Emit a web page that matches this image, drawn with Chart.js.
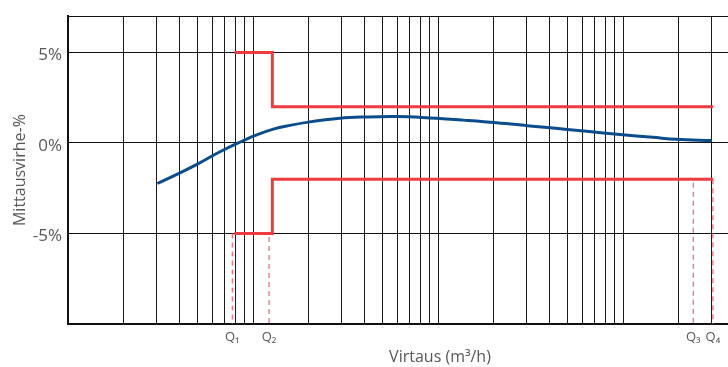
<!DOCTYPE html>
<html>
<head>
<meta charset="utf-8">
<script src="https://cdn.jsdelivr.net/npm/chart.js@4"></script>
<style>
  html, body { margin: 0; padding: 0; background: #fff; }
  #wrap { width: 728px; height: 367px; position: relative; }
</style>
</head>
<body>
<div id="wrap"><canvas id="c" width="728" height="367"></canvas></div>
<script>
// ---- data ----
const curveX = [3.04, 4.03, 5.06, 6.10, 7.05, 8.15, 9.04, 10.2, 12.85, 15.8, 19.9, 29.4, 39.4, 59.7, 90.3, 136.7, 207, 313, 417, 634, 960, 1445, 1941, 3004];
const curveY = [-2.24, -1.65, -1.14, -0.68, -0.35, -0.04, 0.17, 0.40, 0.76, 0.97, 1.15, 1.36, 1.43, 1.46, 1.38, 1.26, 1.12, 0.94, 0.82, 0.64, 0.46, 0.31, 0.20, 0.13];

const upperLimitX = [7.93, 12.7, 12.7, 3050];
const upperLimitY = [5, 5, 2, 2];
const lowerLimitX = [7.93, 12.7, 12.7, 3050];
const lowerLimitY = [-5, -5, -2, -2];

const qNames = ['Q\u2081', 'Q\u2082', 'Q\u2083', 'Q\u2084'];
const qValues = [7.72, 12.2, 2390, 3050];
const qTopY = [-5, -5.2, -2.2, -2];
const qBottomY = -10;

const gridValues = [1,2,3,4,5,6,7,8,9,10,20,30,40,50,60,70,80,90,100,200,300,400,500,600,700,800,900,1000,2000,3000];
const yTickValues = [-10, -5, 0, 5, 7];
const yLabeled = [-5, 0, 5];

const xMin = 1, xMax = 3680, yMin = -10, yMax = 7;
const xTitle = 'Virtaus (m\u00B3/h)';
const yTitle = 'Mittausvirhe-%';

// ---- build datasets ----
const toPts = (xs, ys) => xs.map((x, i) => ({x: x, y: ys[i]}));
const RED = '#ee3b40';
const DASH_RED = '#f0646c';

const datasets = [
  { data: toPts(upperLimitX, upperLimitY), borderColor: RED, borderWidth: 3, tension: 0, pointRadius: 0, borderJoinStyle: 'miter' },
  { data: toPts(lowerLimitX, lowerLimitY), borderColor: RED, borderWidth: 3, tension: 0, pointRadius: 0, borderJoinStyle: 'miter' },
  { data: toPts(curveX, curveY), borderColor: '#0b4d8c', borderWidth: 3, tension: 0.4, pointRadius: 0 }
];
qValues.forEach((q, i) => {
  datasets.push({ data: [{x: q, y: qTopY[i]}, {x: q, y: qBottomY}], borderColor: DASH_RED, borderWidth: 1.2, borderDash: [5, 4], pointRadius: 0 });
});

const FONT = '"Open Sans", "DejaVu Sans", sans-serif';
const TXT = '#585858';

const xTitlePlugin = {
  id: 'xTitlePlugin',
  afterDraw(chart) {
    const ctx = chart.ctx;
    ctx.save();
    ctx.font = '16px ' + FONT;
    ctx.fillStyle = TXT;
    ctx.textAlign = 'center';
    ctx.textBaseline = 'middle';
    ctx.fillText(xTitle, 440, 357);
    ctx.restore();
  }
};

new Chart(document.getElementById('c'), {
  type: 'line',
  data: { datasets: datasets },
  plugins: [xTitlePlugin],
  options: {
    responsive: false,
    animation: false,
    events: [],
    layout: { padding: { top: 14, right: 0, left: 0, bottom: 0 } },
    plugins: { legend: { display: false }, tooltip: { enabled: false } },
    scales: {
      x: {
        type: 'logarithmic',
        min: xMin, max: xMax,
        afterBuildTicks(scale) {
          const all = gridValues.concat(qValues).sort((a, b) => a - b);
          scale.ticks = all.map(v => ({ value: v }));
        },
        afterFit(scale) { scale.height = 43; },
        grid: {
          drawTicks: false,
          lineWidth: 1,
          color(ctx) {
            if (ctx.tick && qValues.includes(ctx.tick.value)) return 'rgba(0,0,0,0)';
            return '#1a1a1a';
          }
        },
        border: { display: true, color: '#111', width: 2 },
        ticks: {
          autoSkip: false, maxRotation: 0, minRotation: 0,
          padding: 5,
          color: TXT,
          font: { family: FONT, size: 13 },
          callback(value) {
            const i = qValues.indexOf(value);
            return i >= 0 ? qNames[i] : '';
          }
        }
      },
      y: {
        type: 'linear',
        min: yMin, max: yMax,
        afterBuildTicks(scale) { scale.ticks = yTickValues.map(v => ({ value: v })); },
        afterFit(scale) { scale.width = 68; },
        grid: { drawTicks: false, color: '#111', lineWidth: 1 },
        border: { display: true, color: '#111', width: 2 },
        ticks: {
          padding: 6,
          labelOffset: 3,
          color: TXT,
          font: { family: FONT, size: 17 },
          callback(value) { return yLabeled.includes(value) ? value + '%' : ''; }
        },
        title: {
          display: true, text: yTitle, color: TXT,
          font: { family: FONT, size: 16 },
          padding: { top: 11, bottom: 0 }
        }
      }
    }
  }
});
</script>
</body>
</html>
